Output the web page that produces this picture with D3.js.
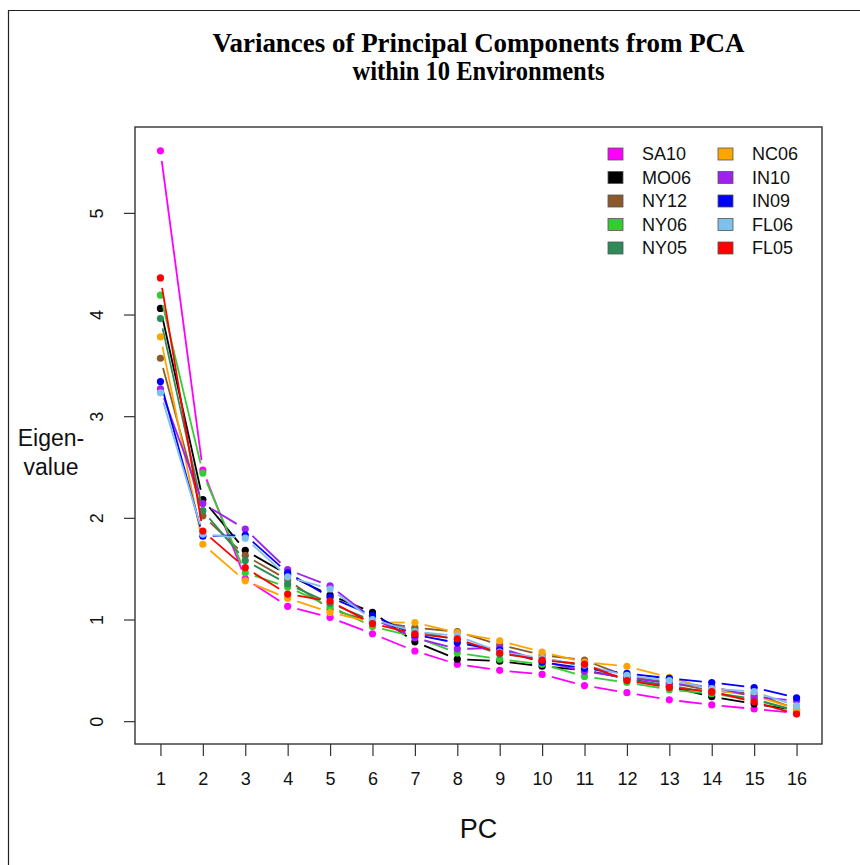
<!DOCTYPE html>
<html>
<head>
<meta charset="utf-8">
<script src="https://cdn.jsdelivr.net/npm/d3@7"></script>
<style>
  html, body { margin: 0; padding: 0; background: #fff; }
  svg { display: block; }
</style>
</head>
<body>
<svg id="chart" width="860" height="865"></svg>
<script>
// Principal component index (x axis)
const pcs = [1, 2, 3, 4, 5, 6, 7, 8, 9, 10, 11, 12, 13, 14, 15, 16];

// Environment names, in plotting / legend order
const environments = ["SA10", "MO06", "NY12", "NY06", "NY05", "NC06", "IN10", "IN09", "FL06", "FL05"];
const envColors = ["#ff00ff", "#000000", "#8b5a2b", "#32cd32", "#2e8b57", "#ffa500", "#a020f0", "#0000ff", "#7ec0ee", "#ff0000"];

// Eigenvalues for PC1..PC16 in each environment
const SA10 = [5.61, 2.47, 1.40, 1.13, 1.02, 0.86, 0.69, 0.56, 0.50, 0.46, 0.35, 0.28, 0.21, 0.16, 0.12, 0.08];
const MO06 = [4.06, 2.18, 1.68, 1.44, 1.24, 1.07, 0.78, 0.61, 0.59, 0.54, 0.50, 0.42, 0.34, 0.24, 0.17, 0.11];
const NY12 = [3.57, 2.02, 1.63, 1.39, 1.10, 0.98, 0.92, 0.88, 0.75, 0.65, 0.60, 0.44, 0.38, 0.30, 0.27, 0.12];
const NY06 = [4.19, 2.44, 1.46, 1.32, 1.13, 0.93, 0.83, 0.67, 0.61, 0.56, 0.44, 0.38, 0.31, 0.27, 0.21, 0.10];
const NY05 = [3.96, 2.07, 1.58, 1.35, 1.16, 0.99, 0.89, 0.80, 0.66, 0.62, 0.54, 0.41, 0.35, 0.28, 0.22, 0.10];
const NC06 = [3.78, 1.74, 1.38, 1.21, 1.07, 0.97, 0.97, 0.87, 0.79, 0.68, 0.58, 0.54, 0.43, 0.31, 0.25, 0.12];
const IN10 = [3.27, 2.14, 1.89, 1.49, 1.33, 1.01, 0.82, 0.71, 0.72, 0.59, 0.49, 0.43, 0.37, 0.34, 0.24, 0.20];
const IN09 = [3.34, 1.82, 1.83, 1.46, 1.22, 1.04, 0.85, 0.77, 0.70, 0.58, 0.52, 0.47, 0.42, 0.38, 0.33, 0.23];
const FL06 = [3.23, 1.84, 1.80, 1.42, 1.30, 1.00, 0.88, 0.84, 0.68, 0.62, 0.55, 0.45, 0.40, 0.32, 0.29, 0.15];
const FL05 = [4.36, 1.87, 1.51, 1.25, 1.18, 0.96, 0.86, 0.81, 0.67, 0.60, 0.56, 0.40, 0.33, 0.29, 0.19, 0.07];

const seriesValues = [SA10, MO06, NY12, NY06, NY05, NC06, IN10, IN09, FL06, FL05];

const yTicks = [0, 1, 2, 3, 4, 5];

const titleLines = ["Variances of Principal Components from PCA", "within 10 Environments"];
const xLabel = "PC";
const yLabelLines = ["Eigen-", "value"];

const svg = d3.select("#chart");
const sans = "'Liberation Sans', Arial, Helvetica, sans-serif";

// Plot region
const plot = { left: 135, right: 822, top: 127, bottom: 744 };

// Axis ranges padded by 4% on each side
const xMin = 1, xMax = 16;
const xPad = (xMax - xMin) * 0.04;
const yMin = 0, yMax = 5.62;
const yPad = (yMax - yMin) * 0.04;

const x = d3.scaleLinear().domain([xMin - xPad, xMax + xPad]).range([plot.left, plot.right]);
const y = d3.scaleLinear().domain([yMin - yPad, yMax + yPad]).range([plot.bottom, plot.top]);

// Partial outer frame (left and top edges)
svg.append("line").attr("x1", 8.5).attr("y1", 10).attr("x2", 8.5).attr("y2", 865)
  .attr("stroke", "#222").attr("stroke-width", 1.2);
svg.append("line").attr("x1", 8).attr("y1", 10.5).attr("x2", 860).attr("y2", 10.5)
  .attr("stroke", "#222").attr("stroke-width", 1.2);

// Title
const titleY = [52, 80];
const titleWidths = [532, 252];
titleLines.forEach((t, i) => {
  svg.append("text")
    .attr("x", (plot.left + plot.right) / 2)
    .attr("y", titleY[i])
    .attr("text-anchor", "middle")
    .attr("font-family", "'Liberation Serif', 'Times New Roman', serif")
    .attr("font-weight", "bold")
    .attr("font-size", 28)
    .attr("textLength", titleWidths[i])
    .attr("lengthAdjust", "spacingAndGlyphs")
    .attr("fill", "#000")
    .text(t);
});

// Series: lines broken around each point, then the points
const gap = 10;
const seriesG = svg.append("g");
seriesValues.forEach((vals, si) => {
  const color = envColors[si];
  const g = seriesG.append("g");
  const pts = vals.map((v, i) => [x(pcs[i]), y(v)]);
  const segs = [];
  for (let i = 0; i < pts.length - 1; i++) {
    const [x0, y0] = pts[i], [x1, y1] = pts[i + 1];
    const dx = x1 - x0, dy = y1 - y0;
    const len = Math.hypot(dx, dy);
    if (len <= 2 * gap) continue;
    const ux = dx / len, uy = dy / len;
    segs.push([x0 + ux * gap, y0 + uy * gap, x1 - ux * gap, y1 - uy * gap]);
  }
  g.selectAll("line").data(segs).join("line")
    .attr("x1", d => d[0]).attr("y1", d => d[1])
    .attr("x2", d => d[2]).attr("y2", d => d[3])
    .attr("stroke", color).attr("stroke-width", 1.8);
  g.selectAll("circle").data(vals).join("circle")
    .attr("cx", (d, i) => x(pcs[i]))
    .attr("cy", d => y(d))
    .attr("r", 3.6)
    .attr("fill", color);
});

// Plot box
svg.append("rect")
  .attr("x", plot.left).attr("y", plot.top)
  .attr("width", plot.right - plot.left).attr("height", plot.bottom - plot.top)
  .attr("fill", "none").attr("stroke", "#333").attr("stroke-width", 1.4);

// X axis
const xAxis = d3.axisBottom(x).tickValues(pcs).tickFormat(d3.format("d")).tickSize(12).tickPadding(16);
const xg = svg.append("g").attr("transform", `translate(0,${plot.bottom})`).call(xAxis);
xg.select(".domain").remove();
xg.selectAll(".tick line").attr("stroke", "#333").attr("stroke-width", 1.2);
xg.selectAll(".tick text")
  .attr("font-family", sans)
  .attr("font-size", 18).attr("fill", "#111");

// Y axis with rotated labels
const yAxis = d3.axisLeft(y).tickValues(yTicks).tickFormat(d3.format("d")).tickSize(11).tickPadding(0);
const yg = svg.append("g").attr("transform", `translate(${plot.left},0)`).call(yAxis);
yg.select(".domain").remove();
yg.selectAll(".tick line").attr("stroke", "#333").attr("stroke-width", 1.2);
yg.selectAll(".tick text")
  .attr("x", 0).attr("y", 0).attr("dy", 0)
  .attr("transform", "translate(-38,0) rotate(-90)")
  .attr("text-anchor", "middle")
  .attr("dominant-baseline", "central")
  .attr("font-family", sans)
  .attr("font-size", 18).attr("fill", "#111");

// Axis titles
svg.append("text")
  .attr("x", (plot.left + plot.right) / 2).attr("y", 838)
  .attr("text-anchor", "middle")
  .attr("font-family", sans)
  .attr("font-size", 27).attr("fill", "#111")
  .text(xLabel);

yLabelLines.forEach((t, i) => {
  svg.append("text")
    .attr("x", 51).attr("y", 446 + i * 29)
    .attr("text-anchor", "middle")
    .attr("font-family", sans)
    .attr("font-size", 23).attr("fill", "#111")
    .text(t);
});

// Legend: two columns of five
const legend = svg.append("g");
const colX = [608, 718];
const rowY0 = 154, rowStep = 23.5;
environments.forEach((name, i) => {
  const col = Math.floor(i / 5), row = i % 5;
  const cx = colX[col], cy = rowY0 + row * rowStep;
  legend.append("rect")
    .attr("x", cx).attr("y", cy - 6)
    .attr("width", 15).attr("height", 12)
    .attr("fill", envColors[i])
    .attr("stroke", "#555").attr("stroke-width", 0.8);
  legend.append("text")
    .attr("x", cx + 34).attr("y", cy)
    .attr("dominant-baseline", "central")
    .attr("font-family", sans)
    .attr("font-size", 18).attr("fill", "#111")
    .text(name);
});
</script>
</body>
</html>
